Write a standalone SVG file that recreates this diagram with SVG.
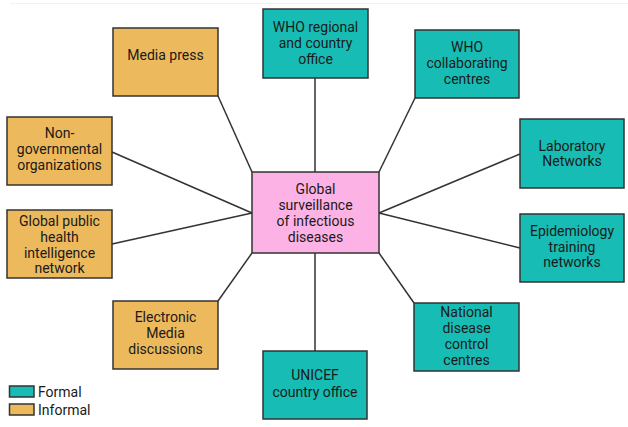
<svg xmlns="http://www.w3.org/2000/svg" width="628" height="427" viewBox="0 0 628 427">
<style>
.box{stroke:#333;stroke-width:1.5}
.f{fill:#17BDB4}
.i{fill:#EDB95D}
.c{fill:#FDB2E5}
text{font-family:Roboto,"Liberation Sans",sans-serif;font-size:14px;fill:#1a1a1a;text-anchor:middle}
.lg{text-anchor:start}
.ln{stroke:#333;stroke-width:1.5;fill:none}
</style>
<rect width="628" height="427" fill="#fff"/>
<line x1="10" y1="3.5" x2="628" y2="3.5" stroke="#f2f2f2" stroke-width="1"/>
<g id="connectors">
<line class="ln" x1="218" y1="96" x2="252" y2="172"/>
<line class="ln" x1="112" y1="152" x2="252" y2="213"/>
<line class="ln" x1="112" y1="244" x2="252" y2="213"/>
<line class="ln" x1="218" y1="301" x2="252" y2="253"/>
<line class="ln" x1="315" y1="78" x2="315" y2="172"/>
<line class="ln" x1="315" y1="253" x2="315" y2="351"/>
<line class="ln" x1="415" y1="98" x2="379" y2="172"/>
<line class="ln" x1="520" y1="154" x2="379" y2="213"/>
<line class="ln" x1="520" y1="248" x2="379" y2="213"/>
<line class="ln" x1="414" y1="303" x2="379" y2="253"/>
</g>
<g id="center">
<rect class="box c" x="252" y="172" width="127" height="81"/>
<text x="315.5" y="194">Global</text>
<text x="315.5" y="210">surveillance</text>
<text x="315.5" y="226">of infectious</text>
<text x="315.5" y="242">diseases</text>
</g>
<g id="media-press">
<rect class="box i" x="113" y="28" width="105" height="68"/>
<text x="165.5" y="60">Media press</text>
</g>
<g id="ngo">
<rect class="box i" x="7" y="117" width="105" height="68"/>
<text x="59.5" y="138">Non-</text>
<text x="59.5" y="154">governmental</text>
<text x="59.5" y="170">organizations</text>
</g>
<g id="gphin">
<rect class="box i" x="7" y="210" width="105" height="68"/>
<text x="59.5" y="226">Global public</text>
<text x="59.5" y="242">health</text>
<text x="59.5" y="258">intelligence</text>
<text x="59.5" y="273">network</text>
</g>
<g id="electronic-media">
<rect class="box i" x="113" y="301" width="105" height="68"/>
<text x="165.5" y="322">Electronic</text>
<text x="165.5" y="338">Media</text>
<text x="165.5" y="354">discussions</text>
</g>
<g id="who-regional">
<rect class="box f" x="263" y="9" width="105" height="69"/>
<text x="315.5" y="32">WHO regional</text>
<text x="315.5" y="48">and country</text>
<text x="315.5" y="64">office</text>
</g>
<g id="who-collab">
<rect class="box f" x="415" y="30" width="104" height="68"/>
<text x="467" y="52">WHO</text>
<text x="467" y="68">collaborating</text>
<text x="467" y="84">centres</text>
</g>
<g id="laboratory">
<rect class="box f" x="520" y="119" width="104" height="69"/>
<text x="572" y="151">Laboratory</text>
<text x="572" y="166">Networks</text>
</g>
<g id="epidemiology">
<rect class="box f" x="520" y="214" width="104" height="68"/>
<text x="572" y="236">Epidemiology</text>
<text x="572" y="252">training</text>
<text x="572" y="267">networks</text>
</g>
<g id="national">
<rect class="box f" x="414" y="303" width="105" height="68"/>
<text x="466.5" y="317">National</text>
<text x="466.5" y="333">disease</text>
<text x="466.5" y="349">control</text>
<text x="466.5" y="365">centres</text>
</g>
<g id="unicef">
<rect class="box f" x="263" y="351" width="104" height="68"/>
<text x="315" y="380">UNICEF</text>
<text x="315" y="397">country office</text>
</g>
<g id="legend">
<rect class="box f" x="9.5" y="386" width="24.5" height="11"/>
<rect class="box i" x="9.5" y="404" width="24.5" height="11"/>
<text class="lg" x="38" y="397">Formal</text>
<text class="lg" x="38" y="415">Informal</text>
</g>
</svg>
